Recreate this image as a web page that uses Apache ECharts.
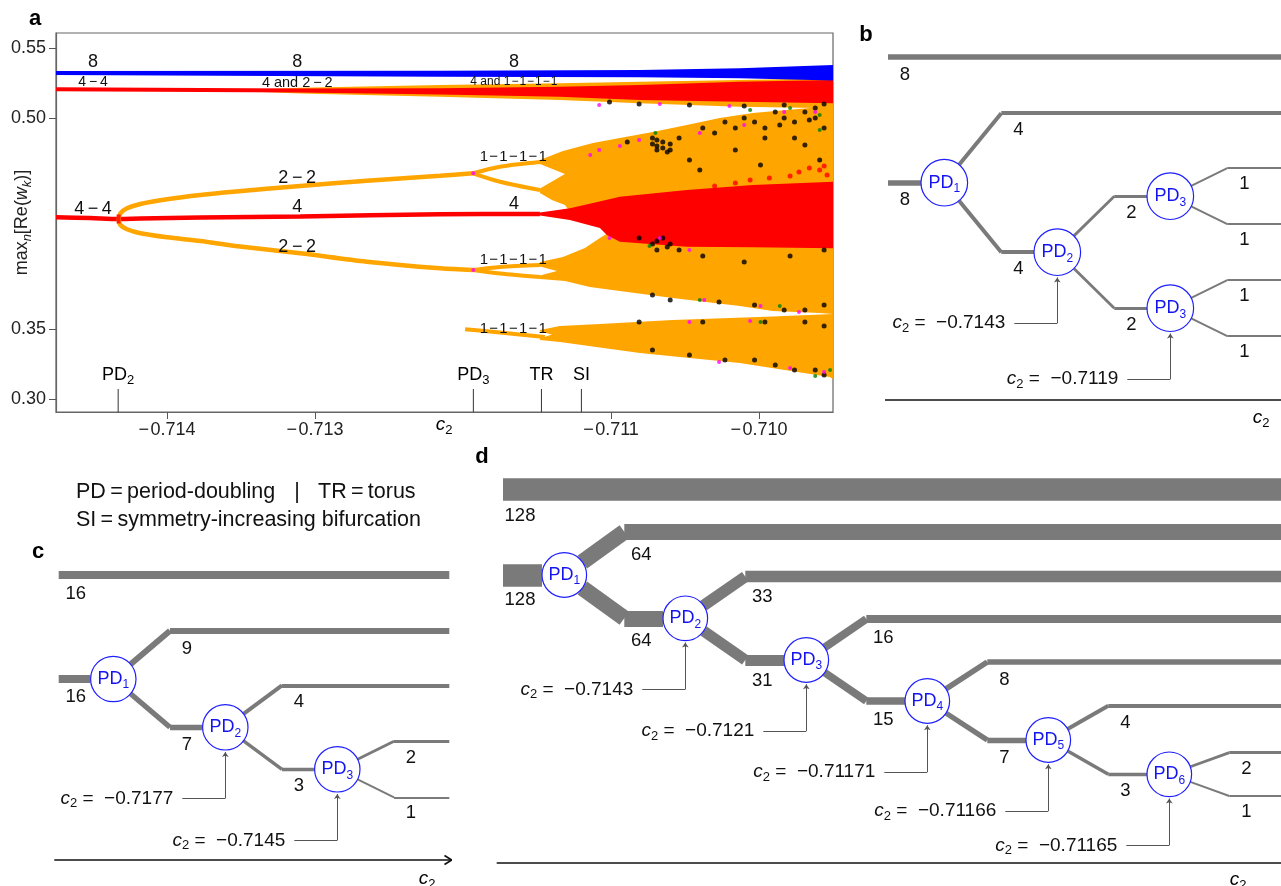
<!DOCTYPE html>
<html><head><meta charset="utf-8">
<script src="https://cdn.jsdelivr.net/npm/echarts@6/dist/echarts.min.js"></script>
<style>html,body{margin:0;padding:0;background:#fff;} #main{width:1281px;height:886px;}</style>
</head><body><div id="main"></div>
<script>
const FONT = '"Liberation Sans", Arial, Helvetica, sans-serif';
const MINUS = '\u2212';
const THIN = '\u2009', HAIR = '\u200A';
const dash = (s, gap) => s.split('-').join(gap + MINUS + gap);

// ---------- Panel a: bifurcation diagram, max_n Re(w_k) versus c2 ----------
const xTicks = [-0.714, -0.713, -0.711, -0.710];
const yTicks = [0.30, 0.35, 0.50, 0.55];
const X_MIN = -0.71475, X_MAX = -0.7095;
const Y_MIN = 0.2907, Y_MAX = 0.5607;

// bifurcation points marked under the diagram
const bifNames = ['PD2', 'PD3', 'TR', 'SI'];
const bifC2 = [-0.71433, -0.71193, -0.71147, -0.71120];

// red period-4 branch ("4") up to the torus bifurcation
const red4 = [[-0.71475,0.42942],[-0.71452,0.42892],[-0.714327,0.42821],[-0.71418,0.42856],[-0.713775,0.42927],[-0.7131,0.42999],[-0.712155,0.43155],[-0.71148,0.43177]];
// orange 2-2 branches born at PD2
const upper22 = [[-0.714327,0.42821],[-0.714315,0.43226],[-0.71427,0.43583],[-0.71418,0.43889],[-0.714,0.44224],[-0.713775,0.4453],[-0.713552,0.44765],[-0.7131,0.45171],[-0.71265,0.45548],[-0.712155,0.45905],[-0.711932,0.46076]];
const lower22 = [[-0.714327,0.42821],[-0.714315,0.42393],[-0.71427,0.42087],[-0.71418,0.41802],[-0.714,0.41517],[-0.713775,0.41254],[-0.713552,0.40919],[-0.7131,0.40378],[-0.71265,0.39779],[-0.712155,0.39309],[-0.711932,0.39188]];
// 1-1-1-1 loops after PD3
const loopUpA = [[-0.711932,0.46076],[-0.71175,0.46546],[-0.71148,0.4688]];
const loopUpB = [[-0.711932,0.46076],[-0.71175,0.45477],[-0.71148,0.44886]];
const loopLoA = [[-0.711932,0.39188],[-0.71175,0.39402],[-0.71148,0.39544]];
const loopLoB = [[-0.711932,0.39188],[-0.71175,0.38939],[-0.71148,0.38689]];
const lowBranch = [[-0.711986,0.34964],[-0.71175,0.34736],[-0.711447,0.34416]];

// envelopes of the dense (quasi-periodic / chaotic) regions
const blueBand = [[-0.71475,0.53362],[-0.712155,0.53383],[-0.710805,0.53433],[-0.71013,0.53554],[-0.7095,0.53789],
                  [-0.7095,0.52685],[-0.71013,0.52842],[-0.710805,0.52913],[-0.712155,0.52956],[-0.71475,0.53077]];
const topOrange = [[-0.713438,0.52023],[-0.7131,0.52165],[-0.712155,0.52365],[-0.711345,0.52486],[-0.710805,0.526],[-0.71013,0.52721],[-0.7095,0.52842],
                   [-0.7095,0.50705],[-0.71013,0.50819],[-0.710805,0.51061],[-0.711345,0.51296],[-0.712155,0.51531],[-0.7131,0.51759],[-0.713438,0.51902]];
const topRed = [[-0.71475,0.52201],[-0.7131,0.52115],[-0.712155,0.5213],[-0.711345,0.52244],[-0.710805,0.52365],[-0.71013,0.526],[-0.7095,0.52721],
                [-0.7095,0.51061],[-0.71013,0.51175],[-0.710805,0.51296],[-0.711345,0.51531],[-0.712155,0.51688],[-0.7131,0.5183],[-0.71475,0.51916]];
const midCloud = [[-0.71148,0.47023],[-0.711325,0.47664],[-0.711122,0.48234],[-0.71094,0.4859],[-0.710718,0.49017],[-0.710488,0.49516],[-0.710265,0.50014],[-0.710042,0.5037],[-0.709812,0.50584],[-0.7095,0.50869],
                  [-0.7095,0.36054],[-0.709589,0.36125],[-0.709907,0.36268],[-0.71013,0.36624],[-0.710583,0.37194],[-0.71094,0.37692],[-0.711143,0.37977],[-0.711311,0.38405],[-0.71148,0.38547],
                  [-0.71148,0.38796],[-0.711365,0.39117],[-0.71148,0.39437],[-0.71148,0.39758],
                  [-0.711325,0.40114],[-0.711176,0.40755],[-0.711075,0.41467],[-0.711008,0.41894],
                  [-0.711075,0.42607],[-0.711278,0.43319],
                  [-0.711311,0.43818],[-0.711399,0.44174],[-0.71148,0.44672],
                  [-0.71148,0.44993],[-0.711311,0.46026],[-0.71148,0.46738]];
const lowCloud = [[-0.71148,0.34915],[-0.711345,0.35199],[-0.711075,0.35342],[-0.710583,0.35627],[-0.709907,0.35876],[-0.7095,0.36054],
                  [-0.7095,0.31425],[-0.709522,0.31567],[-0.71013,0.32564],[-0.710805,0.33276],[-0.711345,0.3406],[-0.71148,0.34202],
                  [-0.71148,0.34309],[-0.711399,0.34594],[-0.71148,0.34808]];
const redWedge = [[-0.71148,0.43284],[-0.711278,0.43583],[-0.711122,0.4396],[-0.71094,0.44409],[-0.710488,0.44886],[-0.710042,0.45242],[-0.7095,0.45477],
                  [-0.7095,0.40734],[-0.710042,0.40805],[-0.710488,0.40848],[-0.71094,0.41204],[-0.711028,0.41681],[-0.711075,0.42179],[-0.711278,0.42749],[-0.71148,0.4307]];

// isolated points scattered along the edges of the clouds
const blackPts = [[-0.71101,0.51154],[-0.71081,0.51011],[-0.71047,0.5094],[-0.7101,0.50869],[-0.70983,0.5094],[-0.70962,0.50726],[-0.70956,0.51011],
  [-0.71089,0.48305],[-0.71072,0.4859],[-0.71069,0.4802],[-0.71069,0.47735],[-0.71065,0.48305],[-0.7106,0.47735],[-0.71054,0.4859],[-0.71038,0.49302],
  [-0.7103,0.48946],[-0.71023,0.49729],[-0.71016,0.49302],[-0.7101,0.50014],[-0.71003,0.49729],[-0.70996,0.49302],[-0.70989,0.50442],[-0.70983,0.50014],
  [-0.70976,0.49729],[-0.70969,0.50442],[-0.70962,0.50014],[-0.70956,0.49302],[-0.70996,0.4859],[-0.70976,0.4859],[-0.71016,0.47735],[-0.71047,0.47023],
  [-0.70969,0.48091],[-0.7104,0.46311],[-0.70999,0.46667],[-0.70959,0.47023],
  [-0.71072,0.48163],[-0.71069,0.48447],[-0.71065,0.47878],[-0.7106,0.48163],[-0.71062,0.47593],[-0.70986,0.4952],[-0.70966,0.49873],[-0.70949,0.4973],
  [-0.71081,0.41467],[-0.71072,0.4104],[-0.71069,0.40613],[-0.71065,0.41467],[-0.7106,0.4104],[-0.71054,0.40613],[-0.71038,0.40185],[-0.7101,0.39758],
  [-0.70979,0.40185],[-0.70956,0.40613],[-0.71069,0.4125],[-0.71062,0.40826],
  [-0.71072,0.37407],[-0.7106,0.37051],[-0.71027,0.36909],[-0.71003,0.36695],[-0.70983,0.36339],[-0.70969,0.36339],[-0.70956,0.36695],
  [-0.71081,0.35484],[-0.71038,0.35484],[-0.70996,0.35484],[-0.70969,0.35484],[-0.70956,0.35199],
  [-0.71072,0.3349],[-0.71047,0.33134],[-0.71023,0.32778],[-0.71003,0.32778],[-0.70989,0.32422],[-0.70976,0.32066],[-0.70962,0.32066],[-0.70956,0.31709]];
const magentaPts = [[-0.71108,0.5094],[-0.71067,0.51011],[-0.7102,0.50869],[-0.71081,0.48447],[-0.7104,0.48946],[-0.7101,0.49516],[-0.70983,0.50442],
  [-0.70962,0.50442],[-0.71108,0.47735],[-0.71094,0.4802],[-0.71114,0.47379],[-0.71193,0.46076],[-0.71193,0.39188],[-0.71067,0.41467],[-0.71047,0.40613],
  [-0.71037,0.37051],[-0.70999,0.36624],[-0.70973,0.36197],[-0.71047,0.35484],[-0.71006,0.35556],[-0.71027,0.32635],[-0.70979,0.32208],[-0.70956,0.31923],[-0.71101,0.41467]];
const greenPts = [[-0.7107,0.48946],[-0.71006,0.50584],[-0.70979,0.50726],[-0.70959,0.50228],[-0.7104,0.37051],[-0.70986,0.36624],[-0.70999,0.35484],
  [-0.70962,0.31638],[-0.70952,0.32066],[-0.71074,0.40897],[-0.70959,0.4916]];
const redPts = [[-0.70973,0.46168],[-0.70966,0.46453],[-0.70959,0.46311],[-0.70954,0.45954],[-0.70979,0.45883],[-0.70993,0.45741],[-0.71006,0.45598],
  [-0.71016,0.45385],[-0.7103,0.45171],[-0.70956,0.46595]];
// the red point where the 4-4 orbit period-doubles (PD2)
const pd2Point = [[-0.714327, 0.42821]];

// period labels written next to the branches: [c2, value, text, font size, gap around the dash]
const branchNotes = [
  [-0.7145, 0.54024, '8', 18, ''], [-0.71312, 0.54024, '8', 18, ''], [-0.711656, 0.54024, '8', 18, ''],
  [-0.7145, 0.52543, '4-4', 14, THIN], [-0.71312, 0.52543, '4 and 2-2', 14.5, THIN],
  [-0.711656, 0.52578, '4 and 1-1-1-1', 12, HAIR],
  [-0.7145, 0.43533, '4-4', 18, THIN], [-0.71312, 0.45741, '2-2', 18, THIN],
  [-0.71312, 0.43675, '4', 18, ''], [-0.71312, 0.40826, '2-2', 18, THIN],
  [-0.71166, 0.47236, '1-1-1-1', 15, HAIR], [-0.711656, 0.43889, '4', 18, ''],
  [-0.71166, 0.399, '1-1-1-1', 15, HAIR], [-0.71166, 0.34986, '1-1-1-1', 15, HAIR]
];

// ---------- Panels b-d: number of branches through the period-doubling cascade ----------
const bTop = 8, bStub = 8;
const bSplit = [[4, 4], [2, 2], [1, 1], [1, 1]];
const bNames = ['1', '2', '3', '3'];
const bOnset = [null, -0.7143, null, -0.7119];

const cTop = 16, cStub = 16;
const cSplit = [[9, 7], [4, 3], [2, 1]];
const cNames = ['1', '2', '3'];
const cOnset = [null, -0.7177, -0.7145];

const dTop = 128, dStub = 128;
const dSplit = [[64, 64], [33, 31], [16, 15], [8, 7], [4, 3], [2, 1]];
const dNames = ['1', '2', '3', '4', '5', '6'];
const dOnset = [null, -0.7143, -0.7121, -0.71171, -0.71166, -0.71165];

// drawing layout of the three trees (canvas units)
const layoutB = {x0: 888, right: 1281, topY: 56.7, px: 944.3, py: 182.7, step: 113, dx: 57, r: 23.3,
  dy: [69.5, 56, 28, 28], next: [[null, 1], [2, 3], [null, null], [null, null]]};
const layoutC = {x0: 58.7, right: 449.3, topY: 575, px: 113.3, py: 679, step: 112, dx: 56.7, r: 22.7,
  dy: [48.3, 42, 28], next: [[null, 1], [null, 2], [null, null]]};
const layoutD = {x0: 503, right: 1281, topY: 489.2, px: 564.3, py: 575, step: 121, dx: 60, r: 22.3,
  dy: [43.3, 41.7, 41, 39, 34.3, 21.7], next: [[null, 1], [null, 2], [null, 3], [null, 4], [null, 5], [null, null]]};

const barWidth = n => 2 * Math.sqrt(n);

function buildTree(L, top, stub, split, names, onset) {
  const out = {bars: [], counts: [], nodes: [], notes: [], annH: [], annV: []};
  out.bars.push({coords: [[L.x0, L.topY], [L.right, L.topY]], lineStyle: {width: barWidth(top)}});
  out.counts.push({value: [L.x0 + 17, L.topY + barWidth(top) / 2 + 15], name: String(top)});
  const pos = [[L.px, L.py]];
  split.forEach((pair, i) => {
    const [x, y] = pos[i];
    L.next[i].forEach((j, k) => { if (j !== null) pos[j] = [x + L.step, y + (k ? 1 : -1) * L.dy[i]]; });
  });
  out.bars.push({coords: [[L.x0, L.py], [L.px - L.r, L.py]], lineStyle: {width: barWidth(stub)}});
  out.counts.push({value: [L.x0 + 17, L.py + barWidth(stub) / 2 + 14], name: String(stub)});
  split.forEach((pair, i) => {
    const [x, y] = pos[i];
    const len = Math.hypot(L.dx, L.dy[i]);
    pair.forEach((n, k) => {
      const sgn = k ? 1 : -1;
      const kx = x + L.dx, ky = y + sgn * L.dy[i];
      const sx = x + L.r * L.dx / len, sy = y + sgn * L.r * L.dy[i] / len;
      const j = L.next[i][k];
      const ex = j === null ? L.right : pos[j][0] - L.r;
      out.bars.push({coords: [[sx, sy], [kx, ky]], lineStyle: {width: barWidth(n)}});
      out.bars.push({coords: [[kx, ky], [ex, ky]], lineStyle: {width: barWidth(n)}});
      out.counts.push({value: [kx + 17, ky + barWidth(n) / 2 + 15], name: String(n)});
    });
    out.nodes.push({value: [x, y], name: names[i], symbolSize: 2 * L.r});
    if (onset[i] !== null) {
      const ay = y + 71;
      out.notes.push({value: [x - 52, ay], name: String(Math.abs(onset[i]))});
      out.annH.push({coords: [[x - 43, ay], [x, ay]]});
      out.annV.push({coords: [[x, ay], [x, y + L.r + 2]]});
    }
  });
  return out;
}

const trees = [
  buildTree(layoutB, bTop, bStub, bSplit, bNames, bOnset),
  buildTree(layoutC, cTop, cStub, cSplit, cNames, cOnset),
  buildTree(layoutD, dTop, dStub, dSplit, dNames, dOnset)
];
const collect = key => trees.reduce((a, t) => a.concat(t[key]), []);
const counts = collect('counts');
const notes = collect('notes');

// c2 axes under each tree
const treeAxes = [
  {coords: [[885, 400], [1281, 400]]},
  {coords: [[54.3, 860], [451.7, 860]]},
  {coords: [[444.5, 855.5], [451.7, 860]]},
  {coords: [[444.5, 864.5], [451.7, 860]]},
  {coords: [[496.7, 862.7], [1281, 862.7]]}
];

const BLUE = '#1f1fff';
const TXT = '#111';
const sub = (size) => ({fontSize: size, verticalAlign: 'bottom', height: size, fontFamily: FONT, color: TXT});

const polys = [
  {pts: topOrange, color: '#FFA500'},
  {pts: topRed, color: '#FF0000'},
  {pts: blueBand, color: '#0000FF'},
  {pts: midCloud, color: '#FFA500'},
  {pts: lowCloud, color: '#FFA500'},
  {pts: redWedge, color: '#FF0000'}
];

const lineSeries = (data, color, width) => ({
  type: 'line', xAxisIndex: 0, yAxisIndex: 0, data, showSymbol: false, smooth: 0.3, silent: true,
  lineStyle: {color, width}, z: 3
});
const dotSeries = (data, color, size, symbol) => ({
  type: 'scatter', xAxisIndex: 0, yAxisIndex: 0, data, symbolSize: size, symbol: symbol || 'circle', silent: true,
  itemStyle: {color}, z: 4
});
// plain text marks placed through the axes of a grid
const textSeries = (items, axis, z) => ({
  type: 'custom', xAxisIndex: axis, yAxisIndex: axis, silent: true, z,
  data: items.map(it => it.value),
  renderItem: (params, api) => {
    const it = items[params.dataIndex];
    const p = api.coord(it.value);
    return {type: 'text', x: p[0], y: p[1], style: Object.assign({align: 'center', verticalAlign: 'middle', fill: TXT}, it.style)};
  }
});

const chart = echarts.init(document.getElementById('main'), null, {renderer: 'canvas'});
chart.setOption({
  animation: false,
  textStyle: {fontFamily: FONT},
  grid: [
    {left: 56, top: 33, width: 777, height: 379, show: true, borderColor: '#666', borderWidth: 1.2, backgroundColor: 'rgba(0,0,0,0)', outerBoundsMode: 'none', containLabel: false},
    {left: 0, top: 0, width: 1281, height: 886, show: false, outerBoundsMode: 'none', containLabel: false}
  ],
  xAxis: [
    {gridIndex: 0, type: 'value', min: X_MIN, max: X_MAX,
     axisLine: {show: true, onZero: false, lineStyle: {color: '#666', width: 1.2}},
     axisTick: {show: true, customValues: xTicks, length: 7, lineStyle: {color: '#555'}},
     axisLabel: {customValues: xTicks, formatter: v => MINUS + HAIR + Math.abs(v).toFixed(3), fontSize: 18, color: '#222', margin: 9, fontFamily: FONT},
     splitLine: {show: false}},
    {gridIndex: 1, type: 'value', min: 0, max: 1281, show: false}
  ],
  yAxis: [
    {gridIndex: 0, type: 'value', min: Y_MIN, max: Y_MAX,
     axisLine: {show: true, onZero: false, lineStyle: {color: '#666', width: 1.2}},
     axisTick: {show: true, customValues: yTicks, length: 7, lineStyle: {color: '#555'}},
     axisLabel: {customValues: yTicks, formatter: v => v.toFixed(2), fontSize: 18, color: '#222', margin: 10, fontFamily: FONT},
     splitLine: {show: false},
     name: '{t|max}{n|n}{t|[Re(}{w|w}{k|k}{t|)]}', nameLocation: 'middle', nameRotate: 90, nameGap: 22, nameMoveOverlap: false,
     nameTextStyle: {rich: {
       t: {fontSize: 18, lineHeight: 24, fontFamily: FONT, color: '#222'},
       w: {fontSize: 18, lineHeight: 24, fontStyle: 'italic', fontFamily: FONT, color: '#222'},
       n: Object.assign(sub(13), {fontStyle: 'italic', color: '#222'}),
       k: Object.assign(sub(13), {fontStyle: 'italic', color: '#222'})
     }}},
    {gridIndex: 1, type: 'value', min: 0, max: 886, inverse: true, show: false}
  ],
  series: [
    {type: 'custom', xAxisIndex: 0, yAxisIndex: 0, silent: true, z: 2,
     data: polys.map((p, i) => [p.pts[0][0], p.pts[0][1], i]),
     renderItem: (params, api) => {
       const p = polys[params.dataIndex];
       return {type: 'polygon', shape: {points: p.pts.map(q => api.coord(q))}, style: {fill: p.color}};
     }},
    lineSeries(red4, '#FF0000', 4.5),
    lineSeries(upper22, '#FFA500', 4.5),
    lineSeries(lower22, '#FFA500', 4.5),
    lineSeries(loopUpA, '#FFA500', 4),
    lineSeries(loopUpB, '#FFA500', 4),
    lineSeries(loopLoA, '#FFA500', 4),
    lineSeries(loopLoB, '#FFA500', 4),
    lineSeries(lowBranch, '#FFA500', 4),
    dotSeries(pd2Point, '#FF0000', [4, 9], 'rect'),
    dotSeries(redPts, '#FF0000', 5),
    dotSeries(blackPts, '#000', 5),
    dotSeries(magentaPts, '#FF00FF', 4),
    dotSeries(greenPts, '#008000', 4),
    {type: 'custom', xAxisIndex: 0, yAxisIndex: 0, silent: true, z: 5,
     data: bifC2.map(c => [c, 0.31]),
     renderItem: (params, api) => {
       const c = bifC2[params.dataIndex];
       const nm = bifNames[params.dataIndex];
       const b = api.coord([c, Y_MIN]), t = api.coord([c, 0.3071]), l = api.coord([c, 0.3171]);
       const text = nm.startsWith('PD') ? '{m|PD}{s|' + nm.slice(2) + '}' : '{m|' + nm + '}';
       return {type: 'group', children: [
         {type: 'line', shape: {x1: b[0], y1: b[1], x2: t[0], y2: t[1]}, style: {stroke: '#333', lineWidth: 1}},
         {type: 'text', x: l[0], y: l[1], style: {text, align: 'center', verticalAlign: 'middle',
           rich: {m: {fontSize: 18, lineHeight: 24, fontFamily: FONT, color: TXT}, s: sub(13)}}}
       ]};
     }},
    textSeries(branchNotes.map(([x, y, t, fs, gap]) => ({value: [x, y], style: {text: dash(t, gap), font: fs + 'px ' + FONT}})), 0, 6),

    // trees b-d
    {type: 'lines', coordinateSystem: 'cartesian2d', xAxisIndex: 1, yAxisIndex: 1, silent: true, z: 2,
     data: collect('bars'), lineStyle: {color: '#7a7a7a', cap: 'butt', opacity: 1}},
    {type: 'lines', coordinateSystem: 'cartesian2d', xAxisIndex: 1, yAxisIndex: 1, silent: true, z: 2,
     data: collect('annH'), lineStyle: {color: '#555', width: 1, opacity: 1}},
    {type: 'lines', coordinateSystem: 'cartesian2d', xAxisIndex: 1, yAxisIndex: 1, silent: true, z: 2,
     data: collect('annV'), symbol: ['none', 'arrow'], symbolSize: 5, lineStyle: {color: '#555', width: 1, opacity: 1}},
    {type: 'lines', coordinateSystem: 'cartesian2d', xAxisIndex: 1, yAxisIndex: 1, silent: true, z: 2,
     data: treeAxes, lineStyle: {color: '#111', width: 1.6, opacity: 1}},
    {type: 'scatter', xAxisIndex: 1, yAxisIndex: 1, silent: true, z: 4,
     data: collect('nodes'),
     itemStyle: {color: '#fff', borderColor: BLUE, borderWidth: 1.2, opacity: 1},
     label: {show: true, position: 'inside', formatter: p => '{m|PD}{s|' + p.name + '}',
       rich: {m: {fontSize: 18, lineHeight: 24, fontFamily: FONT, color: '#1414ee'},
              s: {fontSize: 12, verticalAlign: 'bottom', height: 12, fontFamily: FONT, color: '#1414ee'}}}},
    textSeries(counts.map(c => ({value: c.value, style: {text: c.name, font: '18.5px ' + FONT}})), 1, 5),
    textSeries(notes.map(n => ({value: n.value, style: {
      text: '{c|c}{s|2}{t| =  ' + MINUS + n.name + '}', align: 'right',
      rich: {c: {fontSize: 19, lineHeight: 24, fontStyle: 'italic', fontFamily: FONT, color: TXT},
             s: sub(13), t: {fontSize: 19, lineHeight: 24, fontFamily: FONT, color: TXT}}}})), 1, 5)
  ],
  graphic: [
    {type: 'text', x: 35, y: 19, style: {text: 'a', font: 'bold 22px ' + FONT, fill: '#000', align: 'center', verticalAlign: 'middle'}},
    {type: 'text', x: 866, y: 35, style: {text: 'b', font: 'bold 22px ' + FONT, fill: '#000', align: 'center', verticalAlign: 'middle'}},
    {type: 'text', x: 38, y: 552, style: {text: 'c', font: 'bold 22px ' + FONT, fill: '#000', align: 'center', verticalAlign: 'middle'}},
    {type: 'text', x: 482, y: 457, style: {text: 'd', font: 'bold 22px ' + FONT, fill: '#000', align: 'center', verticalAlign: 'middle'}},
    {type: 'text', x: 76, y: 492, style: {text: 'PD\u2009=\u2009period-doubling', font: '21.5px ' + FONT, fill: TXT, align: 'left', verticalAlign: 'middle'}},
    {type: 'text', x: 297, y: 492, style: {text: '|', font: '21.5px ' + FONT, fill: TXT, align: 'center', verticalAlign: 'middle'}},
    {type: 'text', x: 318, y: 492, style: {text: 'TR\u2009=\u2009torus', font: '21.5px ' + FONT, fill: TXT, align: 'left', verticalAlign: 'middle'}},
    {type: 'text', x: 76, y: 520, style: {text: 'SI\u2009=\u2009symmetry-increasing bifurcation', font: '21.5px ' + FONT, fill: TXT, align: 'left', verticalAlign: 'middle'}},
    ...[[444, 425], [1261, 418], [427, 879], [1238, 880]].map(([x, y]) => ({
      type: 'text', x, y, style: {text: '{c|c}{s|2}', align: 'center', verticalAlign: 'middle',
        rich: {c: {fontSize: 19, lineHeight: 24, fontStyle: 'italic', fontFamily: FONT, color: TXT}, s: sub(13)}}}))
  ]
});
</script></body></html>
